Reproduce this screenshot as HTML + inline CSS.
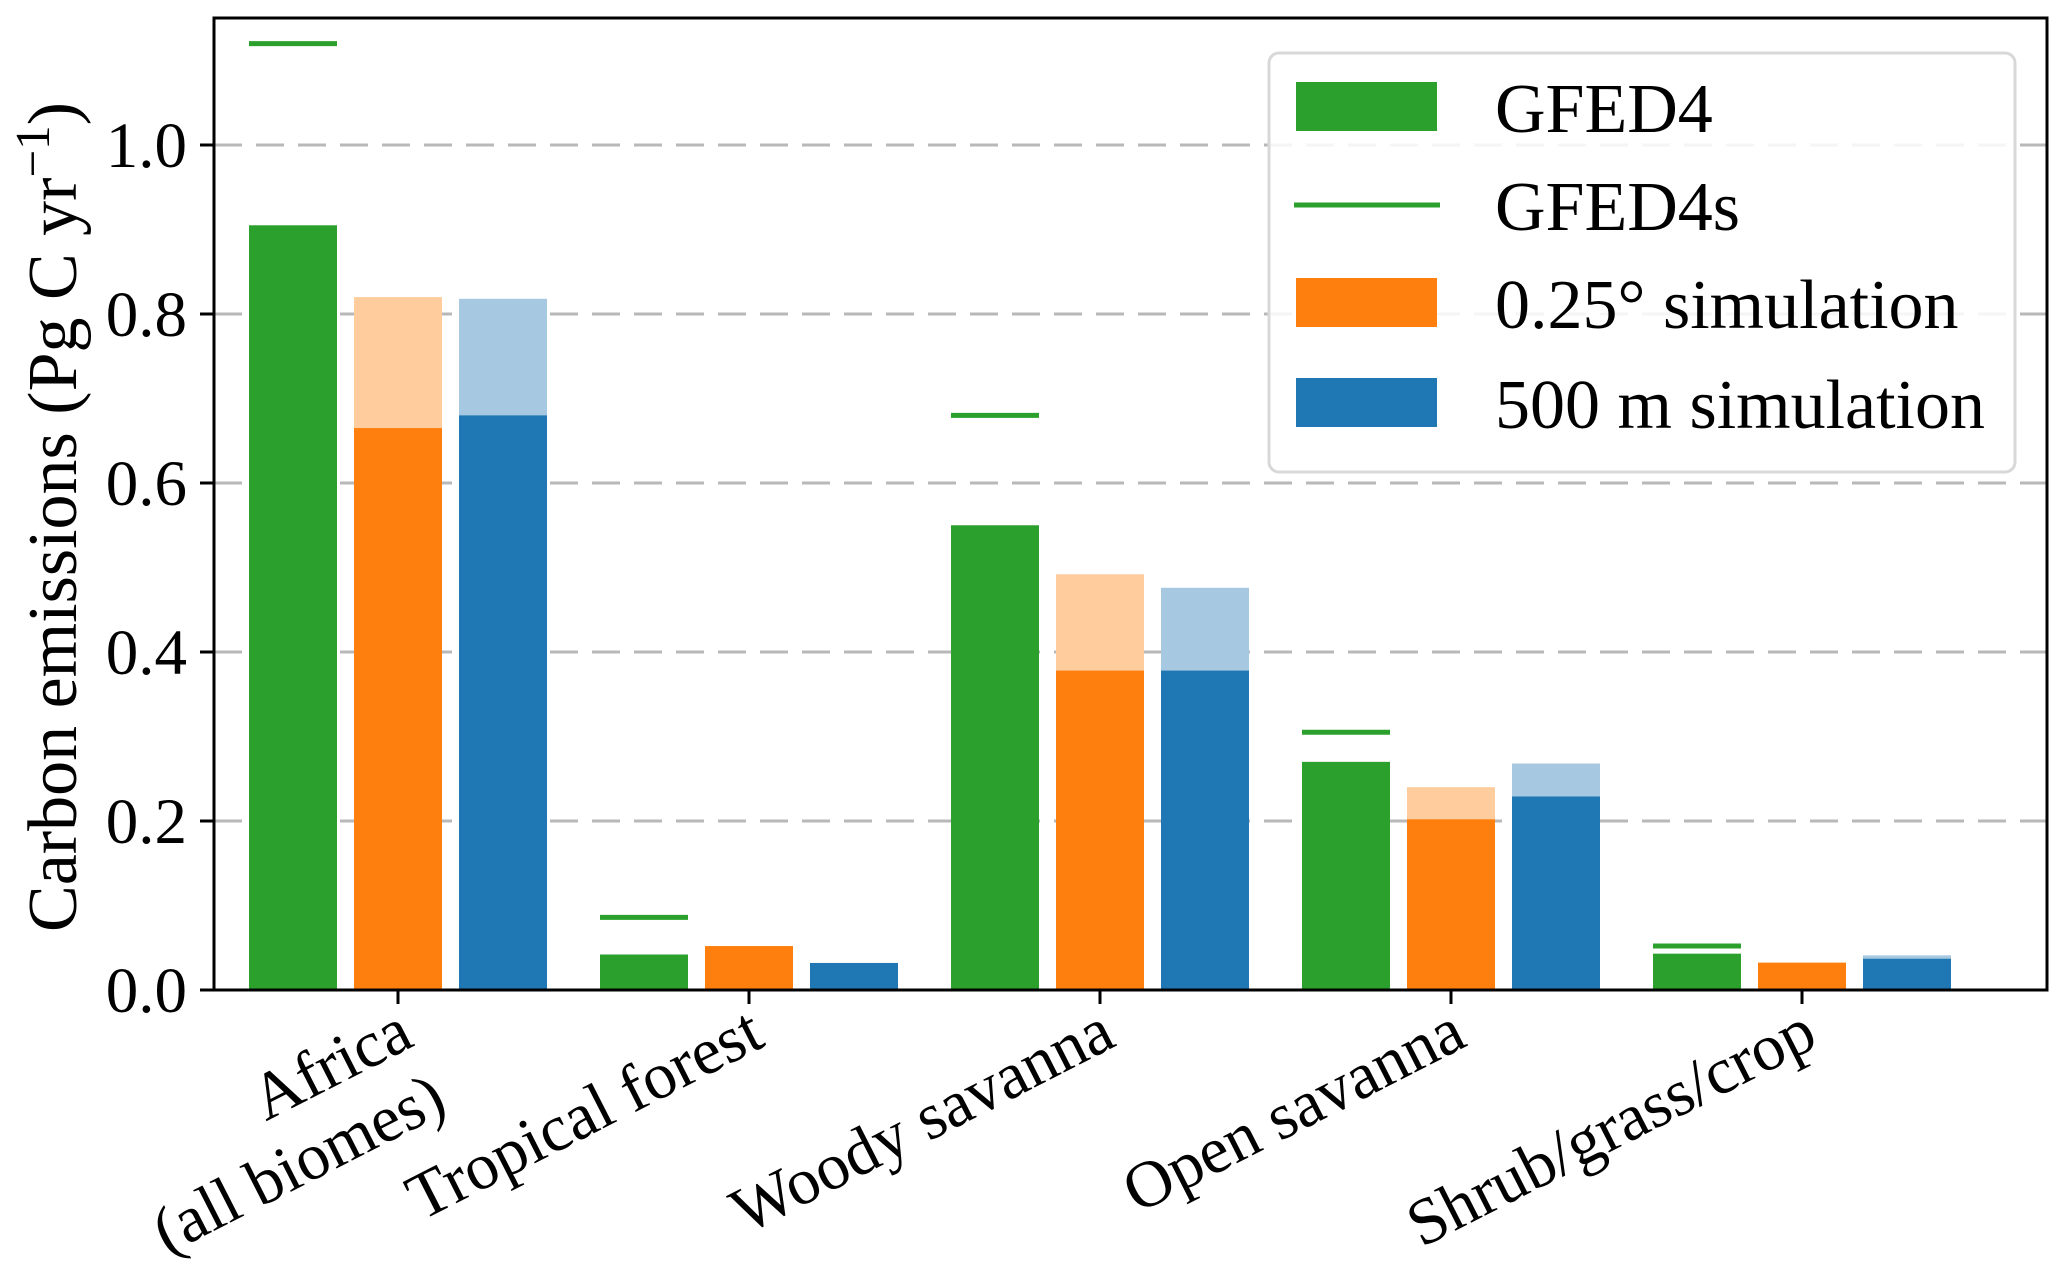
<!DOCTYPE html>
<html><head><meta charset="utf-8"><style>
html,body{margin:0;padding:0;background:#fff;}
svg{display:block;font-family:"Liberation Serif",serif;}
</style></head><body>
<svg id="chart" width="2067" height="1266" viewBox="0 0 2067 1266" xmlns="http://www.w3.org/2000/svg">
<rect width="2067" height="1266" fill="#fff"/>
<g id="grid"></g>
<g id="bars"></g>
<g id="axes"></g>
<g id="legend"></g>
</svg>
<script>
const categories = [["Africa","(all biomes)"],["Tropical forest"],["Woody savanna"],["Open savanna"],["Shrub/grass/crop"]];
const gfed4 = [0.905, 0.042, 0.55, 0.27, 0.043];
const gfed4s = [1.12, 0.086, 0.68, 0.305, 0.052];
const sim025 = [0.665, 0.052, 0.378, 0.202, 0.032];
const sim025Upper = [0.82, 0.052, 0.492, 0.24, 0.033];
const sim500 = [0.68, 0.032, 0.378, 0.229, 0.037];
const sim500Upper = [0.818, 0.032, 0.476, 0.268, 0.041];
const yTicks = [0, 0.2, 0.4, 0.6, 0.8, 1.0];
const yTickLabels = ["0.0","0.2","0.4","0.6","0.8","1.0"];

const NS = "http://www.w3.org/2000/svg";
const X0 = 214, X1 = 2047, Y0 = 990, YT = 18;
const yScale = v => Y0 - v * 845;
const xScale = i => 398 + i * 351;
const BW = 88, OFF = 105;
function mk(tag, attrs, parent){
  const e = document.createElementNS(NS, tag);
  for (const k in attrs) e.setAttribute(k, attrs[k]);
  parent.appendChild(e); return e;
}
const grid = document.getElementById('grid');
const bars = document.getElementById('bars');
const axes = document.getElementById('axes');
const legend = document.getElementById('legend');

yTicks.forEach((t, i) => {
  const y = yScale(t);
  if (t > 0) {
    const gl = mk('line', {x1:X0, x2:X1, y1:y, y2:y, stroke:'#b8b8b8', 'stroke-width':3, 'stroke-dasharray':'28 14'}, grid);
    
    
  }
  const tk = mk('line', {x1:X0-14, x2:X0, y1:y, y2:y, stroke:'#000', 'stroke-width':3}, axes);
  
  
  const tl = mk('text', {x:187, y:y+22, 'text-anchor':'end', 'font-size':65, fill:'#000'}, axes);
  tl.textContent = yTickLabels[i];
  
  
});

function bar(x, v, color, name){
  const r = mk('rect', {x:x - BW/2, y:yScale(v), width:BW, height:Y0 - yScale(v), fill:color}, bars);
  
  
}
categories.forEach((c, i) => {
  const cx = xScale(i);
  bar(cx - OFF, gfed4[i], '#2ca02c', 'bar-gfed4');
  bar(cx, sim025Upper[i], '#ffcc9e', 'bar-025-upper');
  bar(cx, sim025[i], '#ff7f0e', 'bar-025');
  bar(cx + OFF, sim500Upper[i], '#a6c8e0', 'bar-500-upper');
  bar(cx + OFF, sim500[i], '#1f77b4', 'bar-500');
  const ln = mk('line', {x1:cx-OFF-BW/2, x2:cx-OFF+BW/2, y1:yScale(gfed4s[i]), y2:yScale(gfed4s[i]), stroke:'#2ca02c', 'stroke-width':5}, bars);
  
  
  const tk = mk('line', {x1:cx, x2:cx, y1:Y0, y2:Y0+14, stroke:'#000', 'stroke-width':3}, axes);
  
  
  const g = mk('g', {transform:`translate(${cx+18},1045) rotate(-27)`}, axes);
  
  
  c.forEach((line, j) => {
    const t = mk('text', {x:0, y:j*74, 'text-anchor':'end', 'font-size':66, fill:'#000'}, g);
    t.textContent = line;
  });
});

const frame = mk('rect', {x:X0, y:YT, width:X1-X0, height:Y0-YT, fill:'none', stroke:'#000', 'stroke-width':3}, axes);


const yl = mk('text', {x:0, y:0, transform:'translate(76,517) rotate(-90)', 'text-anchor':'middle', 'font-size':70, fill:'#000'}, axes);


yl.innerHTML = 'Carbon emissions (Pg C yr<tspan dy="-27" font-size="49">−1</tspan><tspan dy="27">)</tspan>';

const lb = mk('rect', {x:1269, y:53, width:746, height:419, rx:10, fill:'#fff', 'fill-opacity':0.85, stroke:'#d8d8d8', 'stroke-width':3}, legend);


const entries = [['GFED4','patch','#2ca02c',132],['GFED4s','line','#2ca02c',230],['0.25° simulation','patch','#ff7f0e',328],['500 m simulation','patch','#1f77b4',428]];
entries.forEach(e => {
  const g = mk('g', {}, legend);
  
  
  if (e[1] === 'patch') mk('rect', {x:1296, y:e[3]-50, width:141, height:49, fill:e[2]}, g);
  else mk('line', {x1:1294, x2:1440, y1:e[3]-25, y2:e[3]-25, stroke:e[2], 'stroke-width':5}, g);
  const t = mk('text', {x:1495, y:e[3], 'font-size':70, fill:'#000'}, g);
  t.textContent = e[0];
});
</script>
</body></html>
